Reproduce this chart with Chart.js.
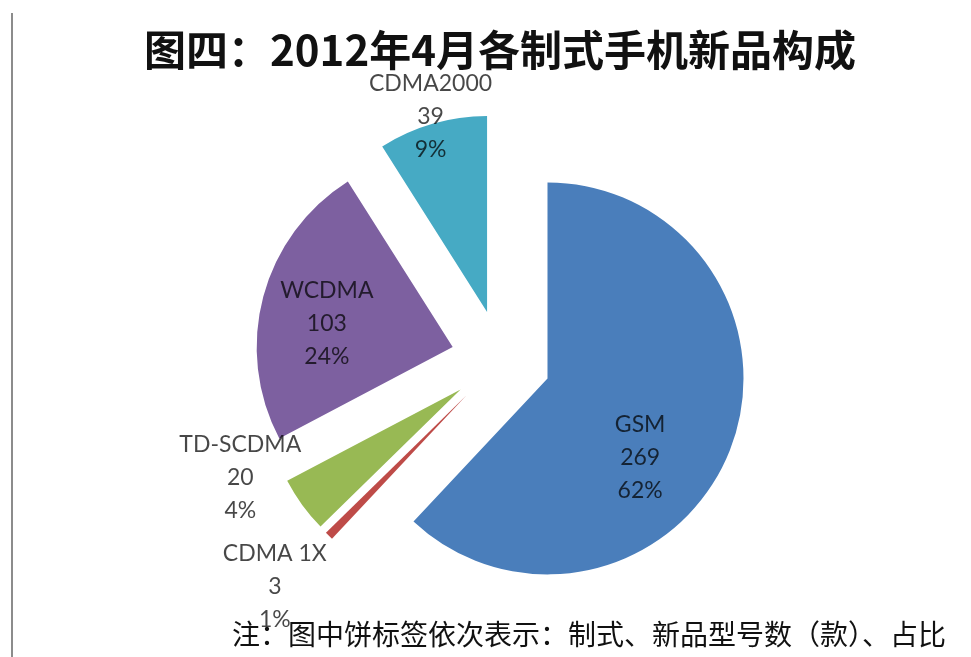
<!DOCTYPE html>
<html>
<head>
<meta charset="utf-8">
<script src="https://cdn.jsdelivr.net/npm/chart.js@4/dist/chart.umd.min.js"></script>
<style>
  html, body { margin: 0; padding: 0; background: #fff; }
  #wrap { position: relative; width: 971px; height: 657px; overflow: hidden; }
  #frame { position: absolute; left: 11px; top: 13px; width: 2px; height: 644px; background: #8c8c8c; }
  #title {
    position: absolute; left: 0; width: 1000px; top: 26px; text-align: center;
    font: bold 42px "Noto Sans CJK SC", sans-serif; line-height: 44px; color: #111;
  }
  #note {
    position: absolute; left: 232px; top: 617px; white-space: nowrap;
    font: 28px "Noto Sans CJK SC", sans-serif; line-height: 32px; color: #111;
  }
  canvas { position: absolute; left: 0; top: 0; }
</style>
</head>
<body>
<div id="wrap">
  <canvas id="pieChart" width="971" height="657"></canvas>
  <div id="frame"></div>
  <div id="title">图四：2012年4月各制式手机新品构成</div>
  <div id="note">注：图中饼标签依次表示：制式、新品型号数（款）、占比</div>
</div>
<script>
// Data
const categories = ['GSM', 'CDMA 1X', 'TD-SCDMA', 'WCDMA', 'CDMA2000'];
const modelCounts = [269, 3, 20, 103, 39];
const shareLabels = ['62%', '1%', '4%', '24%', '9%'];

const sliceColors = ['#4a7ebb', '#be4b48', '#98b954', '#7d60a0', '#46aac4'];

// label placement: distance from pie centre and angle nudge (degrees)
const labelDist = [170, 320, 286, 178, 253];
const labelTurn = [13.5, 0.6, 11.8, -3, 0];
const explodeBy = 50;

// Draw each slice pulled out along its middle angle
const explodePlugin = {
    id: 'explode',
    beforeDatasetDraw(chart, args) {
        const ctx = chart.ctx;
        args.meta.data.forEach(arc => {
            const mid = (arc.startAngle + arc.endAngle) / 2;
            ctx.save();
            ctx.translate(Math.cos(mid) * explodeBy, Math.sin(mid) * explodeBy);
            arc.draw(ctx);
            ctx.restore();
        });
        return false;
    }
};

// Three-line labels: name, count, share
const labelPlugin = {
    id: 'sliceLabels',
    afterDatasetsDraw(chart) {
        const ctx = chart.ctx;
        const meta = chart.getDatasetMeta(0);
        ctx.save();
        ctx.font = '23px Lato, sans-serif';
        ctx.textAlign = 'center';
        ctx.textBaseline = 'middle';
        ctx.fillStyle = 'rgba(0, 0, 0, 0.72)';
        meta.data.forEach((arc, i) => {
            const mid = (arc.startAngle + arc.endAngle) / 2 + labelTurn[i] * Math.PI / 180;
            const x = arc.x + Math.cos(mid) * labelDist[i];
            const y = arc.y + Math.sin(mid) * labelDist[i];
            const lines = [categories[i], String(modelCounts[i]), shareLabels[i]];
            lines.forEach((t, k) => ctx.fillText(t, x, y + (k - 1) * 33));
        });
        ctx.restore();
    }
};

document.addEventListener('DOMContentLoaded', function() {
    const ctx = document.getElementById('pieChart').getContext('2d');
    new Chart(ctx, {
        type: 'pie',
        data: {
            labels: categories,
            datasets: [{
                data: modelCounts,
                backgroundColor: sliceColors,
                borderWidth: 0
            }]
        },
        options: {
            responsive: false,
            animation: false,
            radius: 196,
            layout: {
                padding: { left: 100, right: 69, top: 100, bottom: 37 }
            },
            plugins: {
                legend: { display: false },
                tooltip: { enabled: false }
            }
        },
        plugins: [explodePlugin, labelPlugin]
    });
});
</script>
</body>
</html>
